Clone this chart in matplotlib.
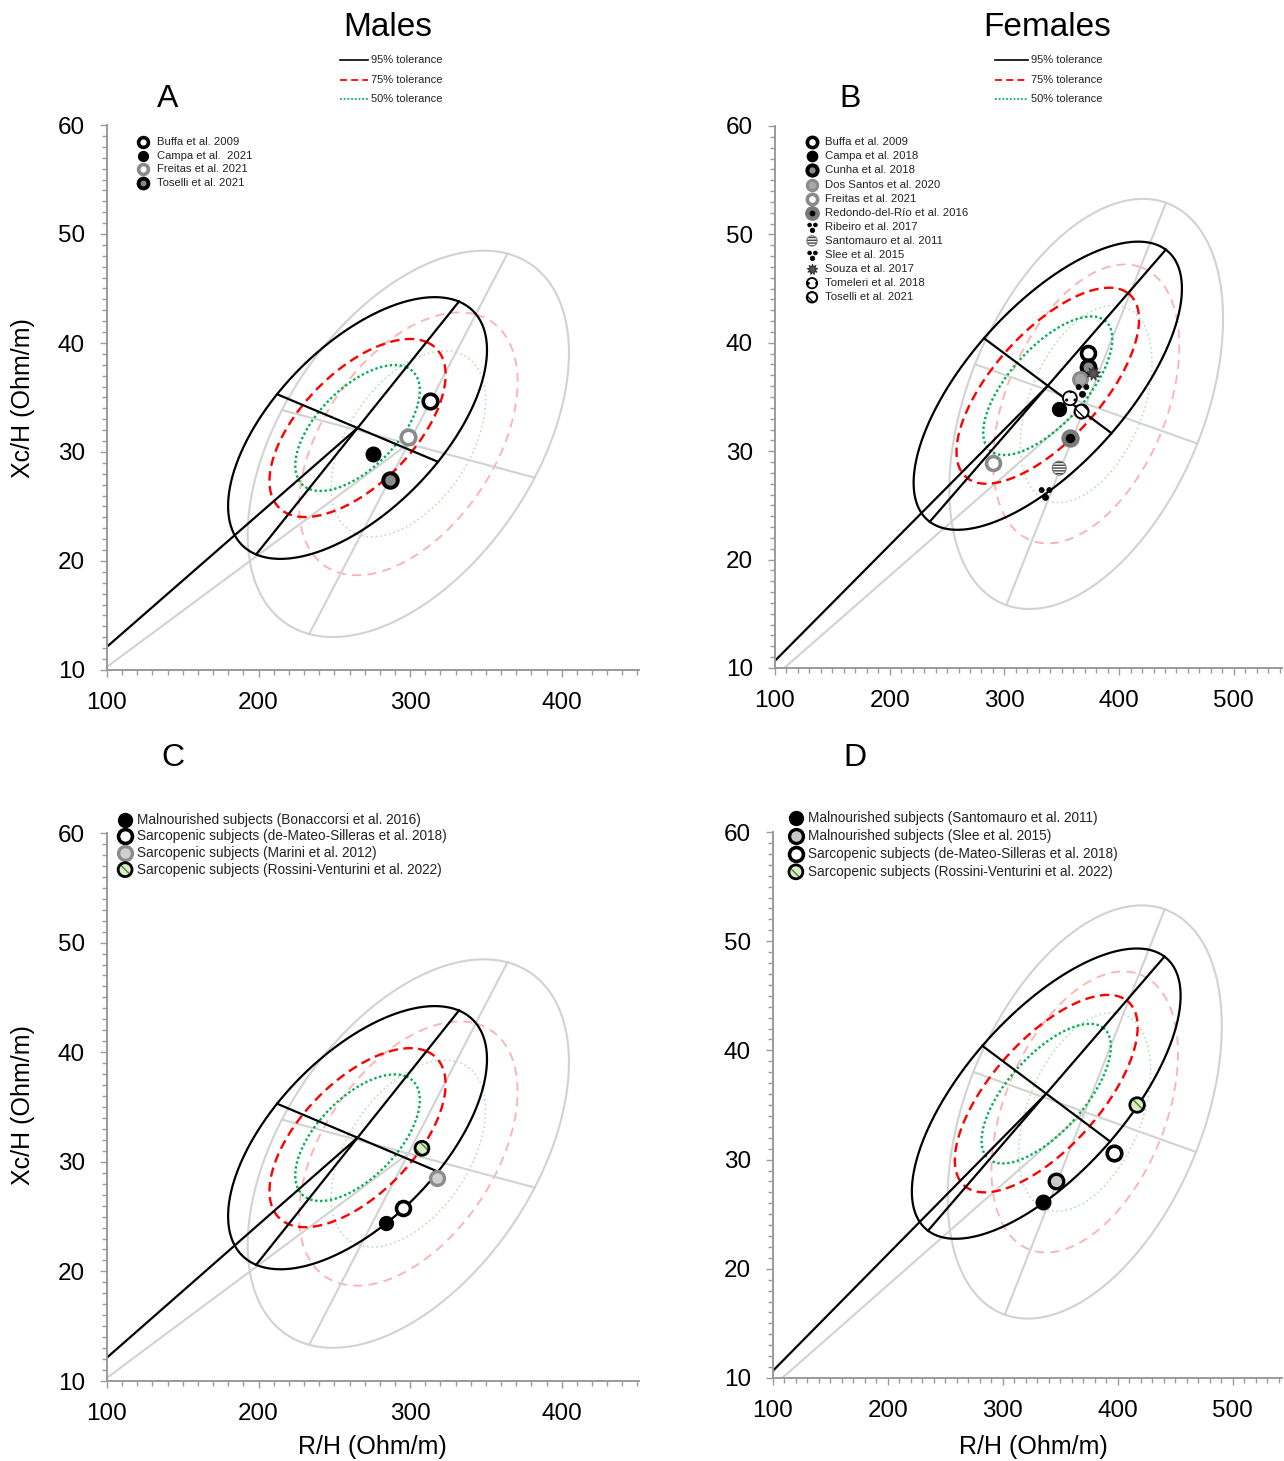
import numpy as np
import matplotlib
matplotlib.use("Agg")
import matplotlib.pyplot as plt
from matplotlib.lines import Line2D
from matplotlib.path import Path
from matplotlib.ticker import MultipleLocator

plt.rcParams['font.family'] = ['Liberation Sans', 'DejaVu Sans']

# ---------------- data ----------------
# tolerance ellipses: mean vector (R/H, Xc/H) and two conjugate half-axes of the 95% ellipse
male_mean = [265.3, 32.2]
male_axis1 = [66.9, 11.6]
male_axis2 = [53.1, -3.1]
male_other_mean = [298.8, 30.75]
male_other_axis1 = [65.4, 17.45]
male_other_axis2 = [83.4, -3.1]

female_mean = [337.8, 36.04]
female_axis1 = [102.9, 12.55]
female_axis2 = [55.6, -4.38]
female_other_mean = [371.3, 34.36]
female_other_axis1 = [69.6, 18.56]
female_other_axis2 = [96.9, -3.66]

tolerance_levels = [0.95, 0.75, 0.50]
tolerance_labels = ["95% tolerance", "75% tolerance", "50% tolerance"]

# panel A - males
a_labels = ["Buffa et al. 2009", "Campa et al.  2021", "Freitas et al. 2021", "Toselli et al. 2021"]
a_r = [313.4, 275.3, 298.5, 287.0]
a_xc = [34.7, 29.83, 31.39, 27.45]
a_marks = ["ring", "solid", "grayring", "graydot"]

# panel B - females
b_labels = ["Buffa et al. 2009", "Campa et al. 2018", "Cunha et al. 2018", "Dos Santos et al. 2020",
            "Freitas et al. 2021", "Redondo-del-Río et al. 2016", "Ribeiro et al. 2017",
            "Santomauro et al. 2011", "Slee et al. 2015", "Souza et al. 2017",
            "Tomeleri et al. 2018", "Toselli et al. 2021"]
b_r = [372.5, 347.8, 373.0, 365.8, 290.2, 357.1, 367.3, 347.8, 335.3, 377.4, 357.1, 367.3]
b_xc = [39.04, 33.88, 37.75, 36.64, 28.9, 31.2, 35.65, 28.44, 26.13, 37.19, 34.89, 33.66]
b_marks = ["ring", "solid", "graydot", "graysolid", "grayring", "blackdot", "trefoil",
           "hstripe", "trefoil", "star", "dotted", "diag"]

# panel C - males, clinical groups
c_labels = ["Malnourished subjects (Bonaccorsi et al. 2016)",
            "Sarcopenic subjects (de-Mateo-Silleras et al. 2018)",
            "Sarcopenic subjects (Marini et al. 2012)",
            "Sarcopenic subjects (Rossini-Venturini et al. 2022)"]
c_r = [283.8, 295.2, 317.9, 307.8]
c_xc = [24.43, 25.83, 28.51, 31.23]
c_marks = ["solid", "ring", "lightgray", "green"]

# panel D - females, clinical groups
d_labels = ["Malnourished subjects (Santomauro et al. 2011)",
            "Malnourished subjects (Slee et al. 2015)",
            "Sarcopenic subjects (de-Mateo-Silleras et al. 2018)",
            "Sarcopenic subjects (Rossini-Venturini et al. 2022)"]
d_r = [335.3, 346.7, 396.9, 416.9]
d_xc = [26.11, 28.03, 30.64, 35.0]
d_marks = ["solid", "grayring2", "ring", "green"]

# ---------------- styles ----------------
trefoil = Path.make_compound_path(Path.circle((-0.45, 0.4), 0.3),
                                  Path.circle((0.45, 0.4), 0.3),
                                  Path.circle((0.0, -0.45), 0.36))

MARKS = {
    "ring": dict(fc="white", ec="black", lw=2.6),
    "solid": dict(fc="black", ec="black", lw=1.0),
    "grayring": dict(fc="white", ec="#8a8a8a", lw=2.6),
    "graydot": dict(fc="#8a8a8a", ec="black", lw=2.8),
    "graysolid": dict(fc="#a8a8a8", ec="#8a8a8a", lw=2.2),
    "blackdot": dict(fc="black", ec="#7a7a7a", lw=3.2),
    "trefoil": dict(fc="black", ec="black", lw=0.5, marker=trefoil),
    "hstripe": dict(fc="white", ec="#777777", lw=0.8, hatch="------", hc="#444444"),
    "star": dict(fc="#555555", ec="#333333", lw=0.8, marker=(9, 1, 0)),
    "dotted": dict(fc="white", ec="black", lw=1.3, hatch="..", hc="black"),
    "diag": dict(fc="white", ec="black", lw=1.5, hatch="\\\\\\", hc="black"),
    "lightgray": dict(fc="#d0d0d0", ec="#8c8c8c", lw=2.4),
    "grayring2": dict(fc="#c8c8c8", ec="black", lw=2.4),
    "green": dict(fc="#dcebc8", ec="black", lw=2.0, hatch="\\\\\\", hc="#3c8c2c"),
}

GRAY = "#d2d2d2"


def draw_mark(ax, x, y, kind, size, **kw):
    st = MARKS[kind]
    marker = st.get("marker", "o")
    if "hatch" in st:
        ax.scatter(x, y, s=size, marker=marker, facecolor=st["fc"], edgecolor=st["hc"],
                   linewidth=0, hatch=st["hatch"], zorder=6, **kw)
        ax.scatter(x, y, s=size, marker=marker, facecolor="none", edgecolor=st["ec"],
                   linewidth=st["lw"], zorder=7, **kw)
    else:
        ax.scatter(x, y, s=size, marker=marker, facecolor=st["fc"], edgecolor=st["ec"],
                   linewidth=st["lw"], zorder=6, **kw)


def draw_biva(ax, mean, a1, a2, styles, axis_color, zorder):
    t = np.linspace(0, 2 * np.pi, 400)
    k95 = np.sqrt(-2 * np.log(0.05))
    for level, (color, ls, lw) in zip(tolerance_levels, styles):
        k = np.sqrt(-2 * np.log(1 - level)) / k95
        ex = mean[0] + k * (a1[0] * np.cos(t) + a2[0] * np.sin(t))
        ey = mean[1] + k * (a1[1] * np.cos(t) + a2[1] * np.sin(t))
        ax.plot(ex, ey, color=color, linestyle=ls, linewidth=lw, zorder=zorder)
    lw0 = styles[0][2]
    ax.plot([mean[0] - a1[0], mean[0] + a1[0]], [mean[1] - a1[1], mean[1] + a1[1]],
            color=axis_color, lw=lw0, zorder=zorder)
    ax.plot([mean[0] - a2[0], mean[0] + a2[0]], [mean[1] - a2[1], mean[1] + a2[1]],
            color=axis_color, lw=lw0, zorder=zorder)
    # phase angle line from the origin to the mean vector
    ax.plot([0, mean[0]], [0, mean[1]], color=axis_color, lw=lw0, zorder=zorder)


main_styles = [("black", "-", 1.6), ("#ff0000", (0, (4, 2.3)), 1.7), ("#00b050", (0, (1, 1.1)), 1.7)]
other_styles = [(GRAY, "-", 1.5), ("#ffb0b0", (0, (5, 3.5)), 1.3), ("#a4e2ae", (0, (1, 2)), 1.1)]


def setup_axes(ax, xmax, xmajor):
    ax.set_xlim(100, xmax)
    ax.set_ylim(10, 60)
    for s in ["top", "right"]:
        ax.spines[s].set_visible(False)
    for s in ["left", "bottom"]:
        ax.spines[s].set_color("#9a9a9a")
        ax.spines[s].set_linewidth(1.4)
    ax.xaxis.set_major_locator(MultipleLocator(xmajor))
    ax.xaxis.set_minor_locator(MultipleLocator(10))
    ax.yaxis.set_major_locator(MultipleLocator(10))
    ax.yaxis.set_minor_locator(MultipleLocator(1))
    ax.tick_params(which="both", direction="out", color="#9a9a9a", width=1.0)
    ax.tick_params(which="major", length=5, labelsize=17.5)
    ax.tick_params(axis="x", which="major", pad=11)
    ax.tick_params(axis="y", which="major", pad=11)
    ax.tick_params(which="minor", length=3.5)


def study_legend(ax, labels, marks, x0, y0, dy, size, fontsize, tx):
    for i, (lab, mk) in enumerate(zip(labels, marks)):
        y = y0 - i * dy
        draw_mark(ax, x0, y, mk, size, transform=ax.transAxes, clip_on=False)
        ax.text(tx, y, lab, transform=ax.transAxes, fontsize=fontsize, va="center",
                ha="left", color="#222222")


W, H = 1284, 1461
fig = plt.figure(figsize=(W / 100, H / 100), dpi=100)


def px_axes(left, right, top, bottom):
    return fig.add_axes([left / W, 1 - bottom / H, (right - left) / W, (bottom - top) / H])


axA = px_axes(107, 639, 125, 670)
axB = px_axes(775, 1282, 126, 668)
axC = px_axes(107, 639, 833, 1381)
axD = px_axes(773, 1282, 832, 1378)

panels = [
    (axA, 451, male_mean, male_axis1, male_axis2, male_other_mean, male_other_axis1, male_other_axis2),
    (axB, 542, female_mean, female_axis1, female_axis2, female_other_mean, female_other_axis1, female_other_axis2),
    (axC, 451, male_mean, male_axis1, male_axis2, male_other_mean, male_other_axis1, male_other_axis2),
    (axD, 543, female_mean, female_axis1, female_axis2, female_other_mean, female_other_axis1, female_other_axis2),
]
for ax, xmax, m, a1, a2, om, oa1, oa2 in panels:
    setup_axes(ax, xmax, 100)
    draw_biva(ax, om, oa1, oa2, other_styles, GRAY, 1)
    draw_biva(ax, m, a1, a2, main_styles, "black", 2)

for ax, rs, xcs, marks, size in [(axA, a_r, a_xc, a_marks, 110), (axB, b_r, b_xc, b_marks, 100),
                                 (axC, c_r, c_xc, c_marks, 100), (axD, d_r, d_xc, d_marks, 110)]:
    for r, xc, mk in zip(rs, xcs, marks):
        draw_mark(ax, r, xc, mk, size)

study_legend(axA, a_labels, a_marks, 0.068, 0.969, 0.025, 50, 8.1, 0.094)
study_legend(axB, b_labels, b_marks, 0.073, 0.970, 0.026, 55, 8.2, 0.099)
study_legend(axC, c_labels, c_marks, 0.034, 1.024, 0.0303, 100, 9.8, 0.056)
study_legend(axD, d_labels, d_marks, 0.045, 1.026, 0.033, 100, 9.8, 0.069)

# titles, panel letters and axis labels
fig.text(388 / W, 1 - 27 / H, "Males", fontsize=24, ha="center", va="center")
fig.text(1047 / W, 1 - 27 / H, "Females", fontsize=24, ha="center", va="center")
for lab, x, y in [("A", 168, 99), ("B", 850, 99), ("C", 173, 758), ("D", 855, 758)]:
    fig.text(x / W, 1 - y / H, lab, fontsize=23, ha="center", va="center")
for y in [398, 1105]:
    fig.text(23 / W, 1 - y / H, "Xc/H (Ohm/m)", fontsize=18, rotation=90, ha="center", va="center")
for x in [372, 1033]:
    fig.text(x / W, 1 - 1447 / H, "R/H (Ohm/m)", fontsize=18, ha="center", va="center")

# tolerance legends above panels A and B
for x0, x1 in [(340, 368), (995, 1028)]:
    for (color, ls, lw), lab, y in zip(main_styles, tolerance_labels, [60, 80, 99]):
        fig.add_artist(Line2D([x0 / W, x1 / W], [1 - y / H, 1 - y / H], color=color,
                              linestyle=ls, linewidth=lw * 0.75 if color != "black" else 1.2))
        fig.text((x1 + 3) / W, 1 - y / H, lab, fontsize=8, ha="left", va="center", color="#222222")

fig.savefig("out.png", dpi=100)
